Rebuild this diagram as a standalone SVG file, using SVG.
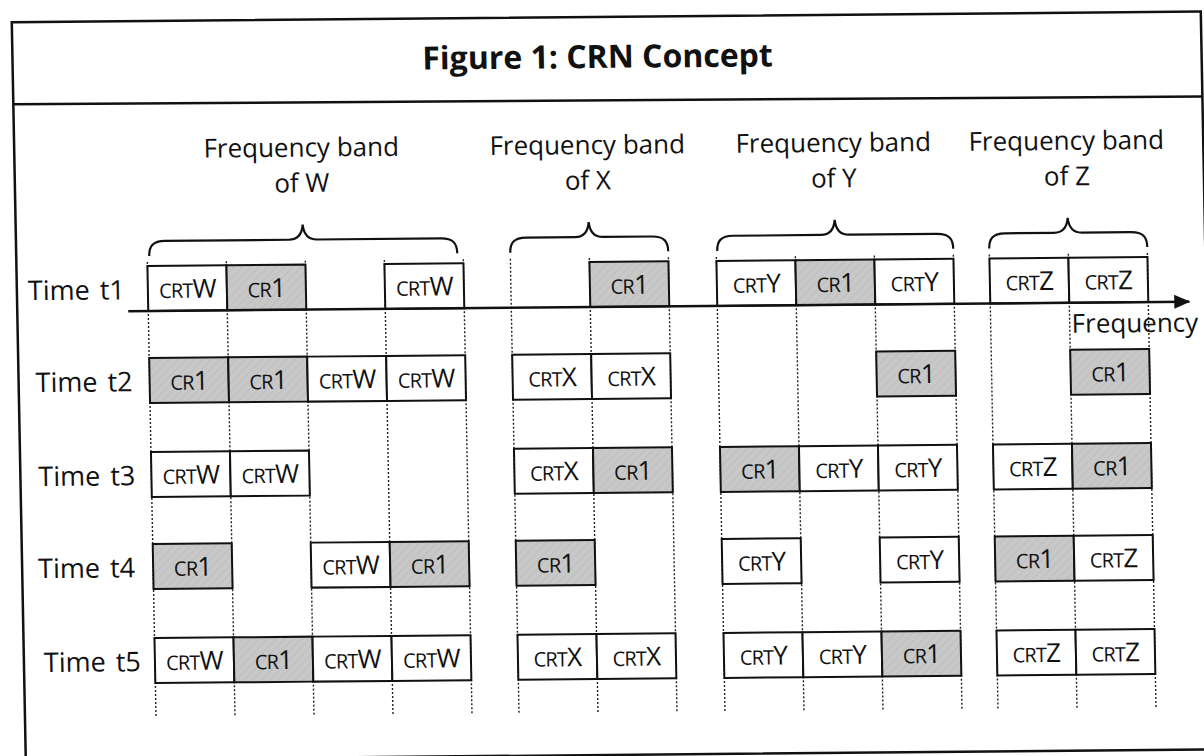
<svg xmlns="http://www.w3.org/2000/svg" width="1204" height="756" viewBox="0 0 1204 756">
<defs>
<style>
.frame{fill:none;stroke:#111;stroke-width:2.5}
.lbl{font-family:"Open Sans","Noto Sans",sans-serif;font-size:26px;fill:#111;text-anchor:middle}
.time{font-family:"Open Sans","Noto Sans",sans-serif;font-size:27px;fill:#111;word-spacing:3px}
.freq{font-family:"Open Sans","Noto Sans",sans-serif;font-size:26px;fill:#111}
.title{font-family:"Open Sans","Noto Sans",sans-serif;font-size:32px;font-weight:bold;fill:#111;text-anchor:middle}
.cell rect{stroke:#111;stroke-width:2}
.w{fill:#fff}
.g{fill:url(#hatch)}
.cell text{font-family:"Open Sans","Noto Sans",sans-serif;font-size:26px;fill:#111;text-anchor:middle;letter-spacing:-0.8px}
.sc{font-size:20px}
.grid line{stroke:#222;stroke-width:1.4;stroke-dasharray:2 2}
.brace{fill:none;stroke:#111;stroke-width:2.2}
.axis{stroke:#111;stroke-width:2.5}
</style>
<pattern id="hatch" width="6" height="6" patternUnits="userSpaceOnUse" patternTransform="rotate(45)">
<rect width="6" height="6" fill="#c8c8c8"/>
<line x1="0" y1="0" x2="0" y2="6" stroke="#b6b6b6" stroke-width="1"/>
</pattern>
<marker id="arrow" markerWidth="16" markerHeight="14" refX="15" refY="7" orient="auto" markerUnits="userSpaceOnUse">
<path d="M0,0 L16,7 L0,14 Z" fill="#111"/>
</marker>
</defs>
<rect width="1204" height="756" fill="#fff"/>
<g transform="matrix(1 -0.009 0.019 1 -8.55 5.4)">
<g id="frame">
<rect class="frame" x="20" y="17" width="1189" height="738"/>
<line class="frame" x1="20" y1="99" x2="1209" y2="102"/>
<text class="title" x="605" y="68">Figure 1: CRN Concept</text>
</g>
<g id="band-labels">
<text class="lbl" x="307" y="154">Frequency band</text>
<text class="lbl" x="307" y="189.5">of W</text>
<text class="lbl" x="593" y="154">Frequency band</text>
<text class="lbl" x="593" y="189.5">of X</text>
<text class="lbl" x="839" y="154">Frequency band</text>
<text class="lbl" x="839" y="189.5">of Y</text>
<text class="lbl" x="1072" y="154">Frequency band</text>
<text class="lbl" x="1072" y="189.5">of Z</text>
</g>
<g id="braces">
<path class="brace" d="M153,252 C153,242 157,237 169,237 L293,237 C301,237 306,233 307,222 C308,233 313,237 321,237 L445,237 C457,237 461,242 461,252"/>
<path class="brace" d="M514,252 C514,242 518,237 530,237 L579,237 C587,237 592,233 593,222 C594,233 599,237 607,237 L656,237 C668,237 672,242 672,252"/>
<path class="brace" d="M721,252 C721,242 725,237 737,237 L825,237 C833,237 838,233 839,222 C840,233 845,237 853,237 L941,237 C953,237 957,242 957,252"/>
<path class="brace" d="M993,252 C993,242 997,237 1009,237 L1058,237 C1066,237 1071,233 1072,222 C1073,233 1078,237 1086,237 L1135,237 C1147,237 1151,242 1151,252"/>
</g>
<g id="time-labels">
<text class="time" x="31" y="295">Time t1</text>
<text class="time" x="37" y="387">Time t2</text>
<text class="time" x="38" y="481">Time t3</text>
<text class="time" x="36" y="573">Time t4</text>
<text class="time" x="40" y="667">Time t5</text>
</g>
<g class="grid" id="grid">
<line x1="151" y1="258" x2="151" y2="714"/>
<line x1="230" y1="258" x2="230" y2="714"/>
<line x1="309" y1="258" x2="309" y2="714"/>
<line x1="388" y1="258" x2="388" y2="714"/>
<line x1="467" y1="258" x2="467" y2="714"/>
<line x1="514" y1="258" x2="514" y2="714"/>
<line x1="593" y1="258" x2="593" y2="714"/>
<line x1="672" y1="258" x2="672" y2="714"/>
<line x1="720" y1="258" x2="720" y2="714"/>
<line x1="799" y1="258" x2="799" y2="714"/>
<line x1="878" y1="258" x2="878" y2="714"/>
<line x1="957" y1="258" x2="957" y2="714"/>
<line x1="993" y1="258" x2="993" y2="714"/>
<line x1="1072" y1="258" x2="1072" y2="714"/>
<line x1="1151" y1="258" x2="1151" y2="714"/>
</g>
<g id="cells">
<!-- t1 -->
<g id="t1-w0" class="cell"><rect class="w" x="151" y="262" width="79" height="45"/><text x="190.5" y="294"><tspan class="sc">CRT</tspan>W</text></g>
<g id="t1-w1" class="cell"><rect class="g" x="230" y="262" width="79" height="45"/><text x="269.5" y="294"><tspan class="sc">CR</tspan>1</text></g>
<g id="t1-w3" class="cell"><rect class="w" x="388" y="262" width="79" height="45"/><text x="427.5" y="294"><tspan class="sc">CRT</tspan>W</text></g>
<g id="t1-x1" class="cell"><rect class="g" x="593" y="262" width="79" height="45"/><text x="632.5" y="294"><tspan class="sc">CR</tspan>1</text></g>
<g id="t1-y0" class="cell"><rect class="w" x="720" y="262" width="79" height="45"/><text x="759.5" y="294"><tspan class="sc">CRT</tspan>Y</text></g>
<g id="t1-y1" class="cell"><rect class="g" x="799" y="262" width="79" height="45"/><text x="838.5" y="294"><tspan class="sc">CR</tspan>1</text></g>
<g id="t1-y2" class="cell"><rect class="w" x="878" y="262" width="79" height="45"/><text x="917.5" y="294"><tspan class="sc">CRT</tspan>Y</text></g>
<g id="t1-z0" class="cell"><rect class="w" x="993" y="262" width="79" height="45"/><text x="1032.5" y="294"><tspan class="sc">CRT</tspan>Z</text></g>
<g id="t1-z1" class="cell"><rect class="w" x="1072" y="262" width="79" height="45"/><text x="1111.5" y="294"><tspan class="sc">CRT</tspan>Z</text></g>
<!-- t2 -->
<g id="t2-w0" class="cell"><rect class="g" x="151" y="354" width="79" height="45"/><text x="190.5" y="386"><tspan class="sc">CR</tspan>1</text></g>
<g id="t2-w1" class="cell"><rect class="g" x="230" y="354" width="79" height="45"/><text x="269.5" y="386"><tspan class="sc">CR</tspan>1</text></g>
<g id="t2-w2" class="cell"><rect class="w" x="309" y="354" width="79" height="45"/><text x="348.5" y="386"><tspan class="sc">CRT</tspan>W</text></g>
<g id="t2-w3" class="cell"><rect class="w" x="388" y="354" width="79" height="45"/><text x="427.5" y="386"><tspan class="sc">CRT</tspan>W</text></g>
<g id="t2-x0" class="cell"><rect class="w" x="514" y="354" width="79" height="45"/><text x="553.5" y="386"><tspan class="sc">CRT</tspan>X</text></g>
<g id="t2-x1" class="cell"><rect class="w" x="593" y="354" width="79" height="45"/><text x="632.5" y="386"><tspan class="sc">CRT</tspan>X</text></g>
<g id="t2-y2" class="cell"><rect class="g" x="878" y="354" width="79" height="45"/><text x="917.5" y="386"><tspan class="sc">CR</tspan>1</text></g>
<g id="t2-z1" class="cell"><rect class="g" x="1072" y="354" width="79" height="45"/><text x="1111.5" y="386"><tspan class="sc">CR</tspan>1</text></g>
<!-- t3 -->
<g id="t3-w0" class="cell"><rect class="w" x="151" y="448" width="79" height="45"/><text x="190.5" y="480"><tspan class="sc">CRT</tspan>W</text></g>
<g id="t3-w1" class="cell"><rect class="w" x="230" y="448" width="79" height="45"/><text x="269.5" y="480"><tspan class="sc">CRT</tspan>W</text></g>
<g id="t3-x0" class="cell"><rect class="w" x="514" y="448" width="79" height="45"/><text x="553.5" y="480"><tspan class="sc">CRT</tspan>X</text></g>
<g id="t3-x1" class="cell"><rect class="g" x="593" y="448" width="79" height="45"/><text x="632.5" y="480"><tspan class="sc">CR</tspan>1</text></g>
<g id="t3-y0" class="cell"><rect class="g" x="720" y="448" width="79" height="45"/><text x="759.5" y="480"><tspan class="sc">CR</tspan>1</text></g>
<g id="t3-y1" class="cell"><rect class="w" x="799" y="448" width="79" height="45"/><text x="838.5" y="480"><tspan class="sc">CRT</tspan>Y</text></g>
<g id="t3-y2" class="cell"><rect class="w" x="878" y="448" width="79" height="45"/><text x="917.5" y="480"><tspan class="sc">CRT</tspan>Y</text></g>
<g id="t3-z0" class="cell"><rect class="w" x="993" y="448" width="79" height="45"/><text x="1032.5" y="480"><tspan class="sc">CRT</tspan>Z</text></g>
<g id="t3-z1" class="cell"><rect class="g" x="1072" y="448" width="79" height="45"/><text x="1111.5" y="480"><tspan class="sc">CR</tspan>1</text></g>
<!-- t4 -->
<g id="t4-w0" class="cell"><rect class="g" x="151" y="540" width="79" height="45"/><text x="190.5" y="572"><tspan class="sc">CR</tspan>1</text></g>
<g id="t4-w2" class="cell"><rect class="w" x="309" y="540" width="79" height="45"/><text x="348.5" y="572"><tspan class="sc">CRT</tspan>W</text></g>
<g id="t4-w3" class="cell"><rect class="g" x="388" y="540" width="79" height="45"/><text x="427.5" y="572"><tspan class="sc">CR</tspan>1</text></g>
<g id="t4-x0" class="cell"><rect class="g" x="514" y="540" width="79" height="45"/><text x="553.5" y="572"><tspan class="sc">CR</tspan>1</text></g>
<g id="t4-y0" class="cell"><rect class="w" x="720" y="540" width="79" height="45"/><text x="759.5" y="572"><tspan class="sc">CRT</tspan>Y</text></g>
<g id="t4-y2" class="cell"><rect class="w" x="878" y="540" width="79" height="45"/><text x="917.5" y="572"><tspan class="sc">CRT</tspan>Y</text></g>
<g id="t4-z0" class="cell"><rect class="g" x="993" y="540" width="79" height="45"/><text x="1032.5" y="572"><tspan class="sc">CR</tspan>1</text></g>
<g id="t4-z1" class="cell"><rect class="w" x="1072" y="540" width="79" height="45"/><text x="1111.5" y="572"><tspan class="sc">CRT</tspan>Z</text></g>
<!-- t5 -->
<g id="t5-w0" class="cell"><rect class="w" x="151" y="634" width="79" height="45"/><text x="190.5" y="666"><tspan class="sc">CRT</tspan>W</text></g>
<g id="t5-w1" class="cell"><rect class="g" x="230" y="634" width="79" height="45"/><text x="269.5" y="666"><tspan class="sc">CR</tspan>1</text></g>
<g id="t5-w2" class="cell"><rect class="w" x="309" y="634" width="79" height="45"/><text x="348.5" y="666"><tspan class="sc">CRT</tspan>W</text></g>
<g id="t5-w3" class="cell"><rect class="w" x="388" y="634" width="79" height="45"/><text x="427.5" y="666"><tspan class="sc">CRT</tspan>W</text></g>
<g id="t5-x0" class="cell"><rect class="w" x="514" y="634" width="79" height="45"/><text x="553.5" y="666"><tspan class="sc">CRT</tspan>X</text></g>
<g id="t5-x1" class="cell"><rect class="w" x="593" y="634" width="79" height="45"/><text x="632.5" y="666"><tspan class="sc">CRT</tspan>X</text></g>
<g id="t5-y0" class="cell"><rect class="w" x="720" y="634" width="79" height="45"/><text x="759.5" y="666"><tspan class="sc">CRT</tspan>Y</text></g>
<g id="t5-y1" class="cell"><rect class="w" x="799" y="634" width="79" height="45"/><text x="838.5" y="666"><tspan class="sc">CRT</tspan>Y</text></g>
<g id="t5-y2" class="cell"><rect class="g" x="878" y="634" width="79" height="45"/><text x="917.5" y="666"><tspan class="sc">CR</tspan>1</text></g>
<g id="t5-z0" class="cell"><rect class="w" x="993" y="634" width="79" height="45"/><text x="1032.5" y="666"><tspan class="sc">CRT</tspan>Z</text></g>
<g id="t5-z1" class="cell"><rect class="w" x="1072" y="634" width="79" height="45"/><text x="1111.5" y="666"><tspan class="sc">CRT</tspan>Z</text></g>
</g>
<g id="connectors">
<line class="axis" x1="131" y1="307" x2="1192" y2="307" marker-end="url(#arrow)"/>
<text class="freq" x="1074" y="337">Frequency</text>
</g>
</g>
</svg>
